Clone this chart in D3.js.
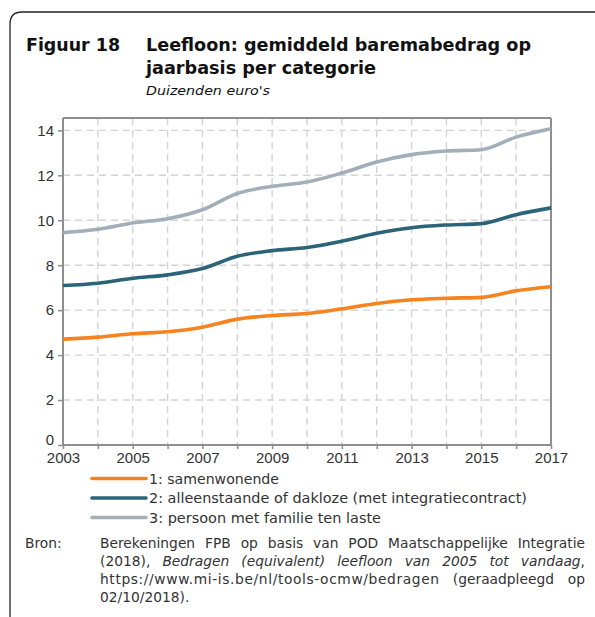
<!DOCTYPE html>
<html><head><meta charset="utf-8">
<script src="https://cdn.jsdelivr.net/npm/d3@7"></script>
<style>
html,body{margin:0;padding:0;background:#fff;}
svg{display:block;}
</style></head>
<body>
<svg id="c" width="595" height="617"></svg>
<script>
const years = [2003,2004,2005,2006,2007,2008,2009,2010,2011,2012,2013,2014,2015,2016,2017];
const samenwonende = [4.71,4.80,4.95,5.04,5.24,5.60,5.76,5.85,6.06,6.30,6.46,6.53,6.57,6.86,7.04];
const alleenstaande = [7.10,7.20,7.42,7.57,7.85,8.40,8.65,8.79,9.07,9.42,9.67,9.79,9.85,10.25,10.55];
const gezin = [9.45,9.60,9.88,10.07,10.47,11.19,11.51,11.70,12.10,12.59,12.92,13.08,13.14,13.70,14.07];
const seriesNames = ["1: samenwonende","2: alleenstaande of dakloze (met integratiecontract)","3: persoon met familie ten laste"];
const seriesColors = ["#f5831f","#2b6478","#a3aebb"];
const yTicks = [0,2,4,6,8,10,12,14];
const xTickLabels = [2003,2005,2007,2009,2011,2013,2015,2017];

const svg = d3.select("#c");
const TXT = "#333";
const SANS = "'DejaVu Sans', sans-serif";

// outer frame
svg.append("path").attr("d","M10,617 L10,24 Q10,12 22,12 L600,12")
  .attr("fill","none").attr("stroke","#222").attr("stroke-width",1.3);

function fitText(sel, w){
  const n = sel.node().getComputedTextLength();
  if (Math.abs(n-w) > 1) sel.attr("textLength", w).attr("lengthAdjust","spacingAndGlyphs");
  return sel;
}
// title
fitText(svg.append("text").attr("x",26).attr("y",51).attr("font-family",SANS).attr("font-weight","bold")
  .attr("font-size",18).attr("fill","#111").text("Figuur 18"), 94);
fitText(svg.append("text").attr("x",146).attr("y",51).attr("font-family",SANS).attr("font-weight","bold")
  .attr("font-size",18).attr("fill","#111").text("Leefloon: gemiddeld baremabedrag op"), 385);
fitText(svg.append("text").attr("x",146).attr("y",74).attr("font-family",SANS).attr("font-weight","bold")
  .attr("font-size",18).attr("fill","#111").text("jaarbasis per categorie"), 230);
fitText(svg.append("text").attr("x",146).attr("y",95).attr("font-family",SANS).attr("font-style","italic")
  .attr("font-size",13).attr("fill","#111").text("Duizenden euro's"), 124);

// scales
const x = d3.scaleLinear().domain([2003,2017]).range([63,551]);
const y = d3.scaleLinear().domain([0,14.55]).range([445,118]);

// grid
const g = svg.append("g");
g.selectAll("line.vg").data(years.slice(1,-1)).join("line")
  .attr("x1",d=>x(d)).attr("x2",d=>x(d)).attr("y1",y(14.55)).attr("y2",y(0))
  .attr("stroke","#d3d3d3").attr("stroke-width",1.4).attr("stroke-dasharray","7,5");
g.selectAll("line.hg").data(yTicks.slice(1)).join("line")
  .attr("x1",x(2003)).attr("x2",x(2017)).attr("y1",d=>y(d)).attr("y2",d=>y(d))
  .attr("stroke","#d3d3d3").attr("stroke-width",1.4).attr("stroke-dasharray","7,5");

// frame top / right
svg.append("line").attr("x1",x(2003)).attr("x2",x(2017)).attr("y1",y(14.55)).attr("y2",y(14.55))
  .attr("stroke","#8e8e8e").attr("stroke-width",2);
svg.append("line").attr("x1",x(2017)).attr("x2",x(2017)).attr("y1",y(14.55)).attr("y2",y(0))
  .attr("stroke","#8e8e8e").attr("stroke-width",2);

// axes
const yAxis = d3.axisLeft(y).tickValues(yTicks).tickSize(5).tickPadding(4).tickFormat(d3.format("d"));
const ya = svg.append("g").attr("transform",`translate(${x(2003)},0)`).call(yAxis);
ya.select(".domain").attr("stroke","#8e8e8e").attr("stroke-width",2).attr("d",`M0,${y(14.55)}V${y(0)}`);
ya.selectAll(".tick line").attr("stroke","#8e8e8e").attr("stroke-width",1.5);
ya.selectAll("text").attr("font-family","'Liberation Sans', sans-serif").attr("font-size",15).attr("fill",TXT);
ya.selectAll(".tick").filter(d=>d===0).select("text").attr("dy","-0.05em");

const xAxis = d3.axisBottom(x).tickValues(years).tickSize(4).tickPadding(3)
  .tickFormat(d => xTickLabels.includes(d) ? String(d) : "");
const xa = svg.append("g").attr("transform",`translate(0,${y(0)})`).call(xAxis);
xa.select(".domain").attr("stroke","#8e8e8e").attr("stroke-width",2).attr("d",`M${x(2003)},0H${x(2017)}`);
xa.selectAll(".tick line").attr("stroke","#8e8e8e").attr("stroke-width",1.5);
xa.selectAll("text").attr("font-family","'Liberation Sans', sans-serif").attr("font-size",15).attr("fill",TXT);

// lines
const data = [samenwonende, alleenstaande, gezin];
const line = d3.line().x((d,i)=>x(years[i])).y(d=>y(d)).curve(d3.curveMonotoneX);
svg.append("g").selectAll("path").data(data).join("path")
  .attr("d",line).attr("fill","none").attr("stroke",(d,i)=>seriesColors[i])
  .attr("stroke-width",3.6).attr("stroke-linejoin","round");

// legend
const legY = [478.5,498,517.5];
const legW = [130,378,232];
const lg = svg.append("g");
seriesNames.forEach((n,i)=>{
  lg.append("line").attr("x1",92).attr("x2",146).attr("y1",legY[i]).attr("y2",legY[i])
    .attr("stroke",seriesColors[i]).attr("stroke-width",3.6).attr("stroke-linecap","round");
  fitText(lg.append("text").attr("x",149).attr("y",legY[i]+5).attr("font-family",SANS)
    .attr("font-size",13.5).attr("fill",TXT).text(n), legW[i]);
});

// source
const BFS = 13.8;
svg.append("text").attr("x",25).attr("y",548).attr("font-family",SANS).attr("font-size",BFS)
  .attr("fill",TXT).text("Bron:");
const bronLines = [
  [["Berekeningen FPB op basis van POD Maatschappelijke Integratie",false]],
  [["(2018),",false],["Bedragen (equivalent) leefloon van 2005 tot vandaag",true],[",",false,true]],
  [["https://www.mi-is.be/nl/tools-ocmw/bedragen (geraadpleegd op",false]],
  [["02/10/2018).",false]]
];
const wordWidthHints = {"https://www.mi-is.be/nl/tools-ocmw/bedragen": 339};
const bronY = [548,566,584,602];
const X0 = 100, X1 = 585;
bronLines.forEach((segs,li)=>{
  const words = [];
  segs.forEach(([t,it,attach])=>{
    if (attach && words.length){ words[words.length-1].parts.push([t,it]); return; }
    t.split(" ").forEach(w=>words.push({parts:[[w,it]], txt:w}));
  });
  const grp = svg.append("g");
  const els = words.map(w=>{
    const te = grp.append("text").attr("y",bronY[li]).attr("font-family",SANS)
      .attr("font-size",BFS).attr("fill",TXT);
    w.parts.forEach(([t,it])=>te.append("tspan").attr("font-style",it?"italic":"normal").text(t));
    if (wordWidthHints[w.txt]) te.attr("textLength",wordWidthHints[w.txt]).attr("lengthAdjust","spacing");
    return te;
  });
  const widths = els.map((e,i)=>wordWidthHints[words[i].txt] || e.node().getComputedTextLength());
  const total = d3.sum(widths);
  const last = li === bronLines.length-1;
  const gap = (!last && els.length>1) ? (X1-X0-total)/(els.length-1) : 4.4;
  let cx = X0;
  els.forEach((e,i)=>{ e.attr("x",cx); cx += widths[i] + gap; });
});
</script>
</body></html>
